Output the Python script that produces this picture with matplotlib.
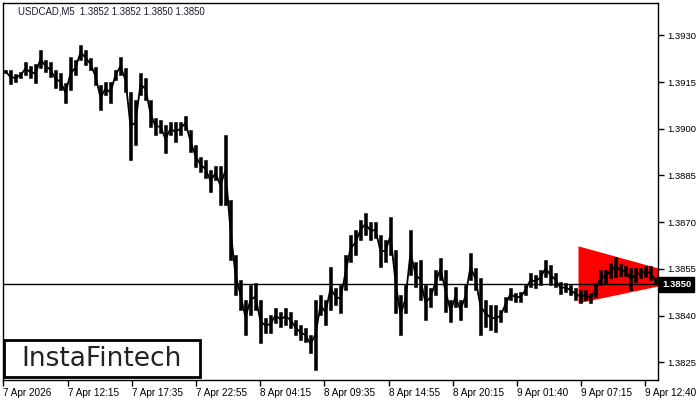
import matplotlib
matplotlib.use("Agg")
import matplotlib.pyplot as plt
from matplotlib.patches import Rectangle

# USDCAD M5, high/low of each 5-bar group
high = [1.39189, 1.39189, 1.39176, 1.39182, 1.39214, 1.39201, 1.39208, 1.39253, 1.39221, 1.39214,
        1.39189, 1.39179, 1.39147, 1.39230, 1.39221, 1.39269, 1.39253, 1.39227, 1.39198, 1.39140,
        1.39150, 1.39150, 1.39189, 1.39230, 1.39195, 1.39118, 1.39092, 1.39179, 1.39163, 1.39092,
        1.39034, 1.39028, 1.39012, 1.39022, 1.39022, 1.39022, 1.39041, 1.38996, 1.38948, 1.38909,
        1.38900, 1.38868, 1.38880, 1.38880, 1.38980, 1.38771, 1.38595, 1.38514, 1.38450, 1.38498,
        1.38505, 1.38450, 1.38392, 1.38402, 1.38425, 1.38412, 1.38425, 1.38412, 1.38386, 1.38370,
        1.38360, 1.38338, 1.38450, 1.38466, 1.38450, 1.38556, 1.38489, 1.38498, 1.38595, 1.38659,
        1.38675, 1.38707, 1.38730, 1.38701, 1.38701, 1.38659, 1.38643, 1.38717, 1.38611, 1.38466,
        1.38498, 1.38675, 1.38572, 1.38579, 1.38498, 1.38489, 1.38547, 1.38585, 1.38547, 1.38450,
        1.38492, 1.38450, 1.38498, 1.38601, 1.38553, 1.38521, 1.38450, 1.38434, 1.38434, 1.38418,
        1.38460, 1.38489, 1.38473, 1.38476, 1.38498, 1.38537, 1.38530, 1.38547, 1.38579, 1.38563,
        1.38537, 1.38508, 1.38505, 1.38498, 1.38489, 1.38482, 1.38482, 1.38473, 1.38505, 1.38547,
        1.38547, 1.38569, 1.38588, 1.38566, 1.38559, 1.38553, 1.38553, 1.38553, 1.38559, 1.38559,
        1.38524]
low = [1.39179, 1.39144, 1.39150, 1.39163, 1.39172, 1.39163, 1.39147, 1.39195, 1.39182, 1.39166,
       1.39131, 1.39124, 1.39083, 1.39124, 1.39172, 1.39221, 1.39205, 1.39189, 1.39140, 1.39060,
       1.39108, 1.39083, 1.39156, 1.39172, 1.39118, 1.38900, 1.38948, 1.39108, 1.39092, 1.39006,
       1.38980, 1.38986, 1.38922, 1.38980, 1.38957, 1.38980, 1.38996, 1.38925, 1.38877, 1.38861,
       1.38842, 1.38797, 1.38835, 1.38755, 1.38755, 1.38579, 1.38466, 1.38418, 1.38338, 1.38402,
       1.38418, 1.38312, 1.38344, 1.38344, 1.38376, 1.38364, 1.38370, 1.38360, 1.38338, 1.38322,
       1.38315, 1.38280, 1.38226, 1.38402, 1.38370, 1.38418, 1.38434, 1.38409, 1.38482, 1.38572,
       1.38595, 1.38643, 1.38659, 1.38643, 1.38649, 1.38556, 1.38572, 1.38595, 1.38409, 1.38338,
       1.38409, 1.38530, 1.38492, 1.38450, 1.38386, 1.38428, 1.38466, 1.38514, 1.38412, 1.38380,
       1.38428, 1.38386, 1.38428, 1.38514, 1.38482, 1.38338, 1.38364, 1.38354, 1.38348, 1.38380,
       1.38412, 1.38450, 1.38444, 1.38444, 1.38466, 1.38492, 1.38489, 1.38498, 1.38524, 1.38498,
       1.38492, 1.38470, 1.38476, 1.38466, 1.38450, 1.38441, 1.38450, 1.38441, 1.38460, 1.38498,
       1.38505, 1.38521, 1.38524, 1.38527, 1.38527, 1.38482, 1.38508, 1.38521, 1.38524, 1.38514,
       1.38500]
group = 5  # bars per group

tick_bars = [0, 65, 129, 193, 257, 321, 386, 450, 514, 578, 642]
tick_labels = ["7 Apr 2026", "7 Apr 12:15", "7 Apr 17:35", "7 Apr 22:55", "8 Apr 04:15",
               "8 Apr 09:35", "8 Apr 14:55", "8 Apr 20:15", "9 Apr 01:40", "9 Apr 07:15",
               "9 Apr 12:40"]
price_ticks = [1.3825, 1.3840, 1.3855, 1.3870, 1.3885, 1.3900, 1.3915, 1.3930]
last_price = 1.3850

# symmetrical triangle pattern
tri_x = [575, 655]
tri_upper = [1.38624, 1.38553]
tri_lower = [1.38441, 1.38495]

fig = plt.figure(figsize=(7, 4), dpi=100)
ax = fig.add_axes([3 / 700, 20 / 400, 655 / 700, 377 / 400])

ax.fill_between(tri_x, tri_lower, tri_upper, color="#ff0000", linewidth=0, zorder=1)

xs = [group * i + group / 2 for i in range(len(high))]
mids = [(h + l) / 2 for h, l in zip(high, low)]
heights = [h - l for h, l in zip(high, low)]
ax.bar(xs, heights, bottom=low, width=2.4, color="black", edgecolor="black",
       linewidth=0.4, zorder=2)
ax.plot(xs, mids, color="black", linewidth=1.3, zorder=2)

ax.axhline(last_price, color="black", linewidth=1, zorder=3)

ax.set_xlim(0, 655)
ax.set_ylim(1.38193, 1.39404)

ax.yaxis.tick_right()
ax.set_yticks(price_ticks)
ax.set_yticklabels([f"{p:.4f}" for p in price_ticks], family="Liberation Sans", fontsize=6.8)
ax.set_xticks(tick_bars)
ax.set_xticklabels(tick_labels, ha="left", family="Liberation Sans", fontsize=7.2)
ax.tick_params(axis="both", length=4, width=1, direction="out", color="black")
ax.tick_params(axis="y", pad=3)
ax.tick_params(axis="x", pad=2)
for s in ax.spines.values():
    s.set_linewidth(1)
    s.set_color("black")

ax.text(1.006, last_price, f"{last_price:.4f}", transform=ax.get_yaxis_transform(),
        ha="left", va="center", fontsize=6.8, color="white", family="Liberation Sans",
        fontweight="bold",
        bbox=dict(boxstyle="square,pad=0.3", facecolor="black", edgecolor="black"),
        zorder=5, clip_on=False)
ax.text(15 / 655, 1 - 8 / 377, "USDCAD,M5  1.3852 1.3852 1.3850 1.3850",
        transform=ax.transAxes, ha="left", va="center", fontsize=6.9,
        family="Liberation Sans", color="#1a1a2e")

# logo box
fig.patches.append(Rectangle((4 / 700, 23 / 400), 196 / 700, 37 / 400, transform=fig.transFigure,
                             facecolor="white", edgecolor="black", linewidth=2, zorder=10))
fig.text(102 / 700, 41 / 400, "InstaFintech", ha="center", va="center", fontsize=19,
         family="DejaVu Sans", color="#222222", zorder=11)

fig.savefig("out.png", dpi=100)
